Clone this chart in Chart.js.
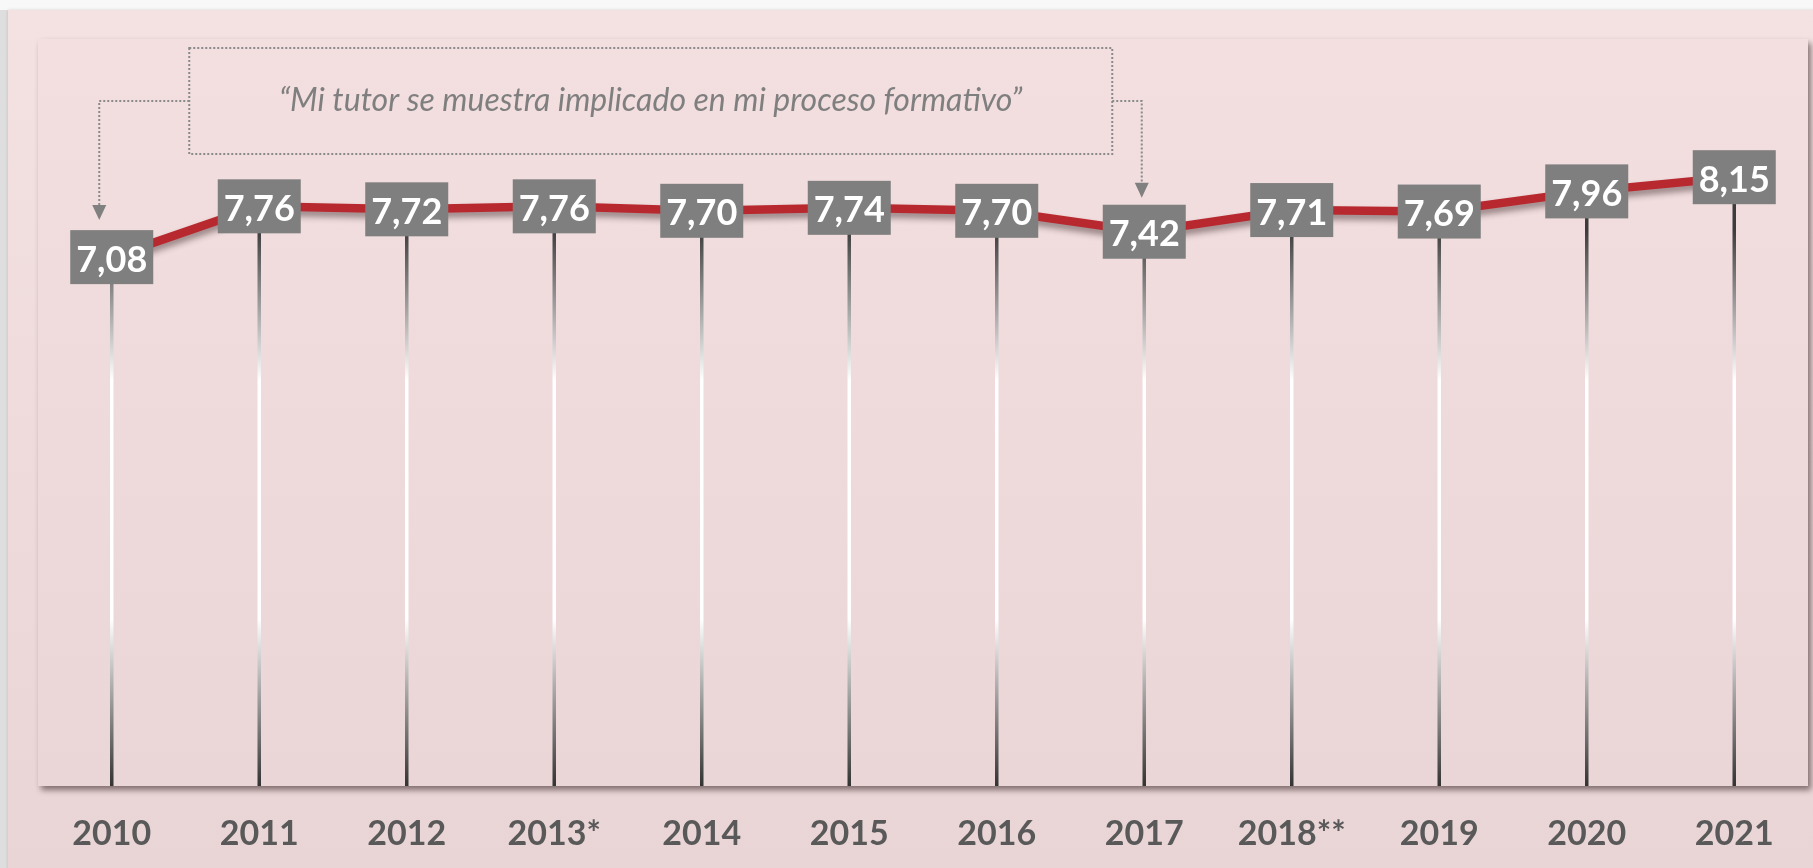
<!DOCTYPE html>
<html>
<head>
<meta charset="utf-8">
<script src="https://cdn.jsdelivr.net/npm/chart.js@4.4.1/dist/chart.umd.min.js"></script>
<style>
  html, body { margin: 0; padding: 0; background: #f6f6f6; }
  canvas { display: block; }
</style>
</head>
<body>
<canvas id="miGrafica" width="1813" height="868"></canvas>
<script>
// datos
const anios = ["2010", "2011", "2012", "2013*", "2014", "2015", "2016", "2017", "2018**", "2019", "2020", "2021"];
const valores = [7.08, 7.76, 7.72, 7.76, 7.70, 7.74, 7.70, 7.42, 7.71, 7.69, 7.96, 8.15];
const titulo = "\u201CMi tutor se muestra implicado en mi proceso formativo\u201D";

const rojo = "#b8292f";
const grisCaja = "#7f7f7f";

function formato(v) {
    return v.toFixed(2).replace(".", ",");
}

// fondo, panel y area interior
const fondoPlugin = {
    id: "fondo",
    beforeDraw(chart) {
        const ctx = chart.ctx;
        const a = chart.chartArea;
        ctx.save();
        ctx.fillStyle = "#f8f8f8";
        ctx.fillRect(0, 0, chart.width, chart.height);
        ctx.fillStyle = "#dedede";
        ctx.fillRect(0, 10, 8, chart.height);

        let g = ctx.createLinearGradient(0, 10, 0, chart.height);
        g.addColorStop(0, "#f4e1e2");
        g.addColorStop(1, "#ead5d6");
        ctx.fillStyle = g;
        ctx.shadowColor = "rgba(0,0,0,0.15)";
        ctx.shadowBlur = 3;
        ctx.fillRect(8, 10, chart.width, chart.height);

        ctx.shadowColor = "rgba(60,40,40,0.6)";
        ctx.shadowBlur = 6;
        ctx.shadowOffsetX = 3;
        ctx.shadowOffsetY = 4;
        g = ctx.createLinearGradient(0, a.top, 0, a.bottom);
        g.addColorStop(0, "#f3dfe0");
        g.addColorStop(1, "#ead6d7");
        ctx.fillStyle = g;
        ctx.fillRect(a.left, a.top, a.right - a.left, a.bottom - a.top);
        ctx.restore();
    },
    beforeDatasetsDraw(chart) {
        // lineas verticales
        const ctx = chart.ctx;
        const a = chart.chartArea;
        const meta = chart.getDatasetMeta(0);
        const g = ctx.createLinearGradient(0, 230, 0, a.bottom);
        g.addColorStop(0, "#3c3c3c");
        g.addColorStop(0.27, "#ffffff");
        g.addColorStop(0.70, "#ffffff");
        g.addColorStop(1, "#333333");
        ctx.save();
        ctx.strokeStyle = g;
        ctx.lineWidth = 3.5;
        meta.data.forEach(p => {
            ctx.beginPath();
            ctx.moveTo(p.x, p.y);
            ctx.lineTo(p.x, a.bottom);
            ctx.stroke();
        });
        ctx.restore();
    },
    beforeDatasetDraw(chart) {
        const ctx = chart.ctx;
        ctx.save();
        ctx.shadowColor = "rgba(40,20,20,0.45)";
        ctx.shadowBlur = 6;
        ctx.shadowOffsetY = 5;
    },
    afterDatasetDraw(chart) {
        chart.ctx.restore();
    },
    afterDatasetsDraw(chart) {
        const ctx = chart.ctx;
        const meta = chart.getDatasetMeta(0);
        const xs = chart.scales.x;

        // cajas con valores
        ctx.save();
        ctx.font = "bold 36px Lato";
        ctx.textAlign = "center";
        ctx.textBaseline = "middle";
        meta.data.forEach((p, i) => {
            ctx.fillStyle = grisCaja;
            ctx.fillRect(p.x - 41.5, p.y - 27, 83, 54);
            ctx.fillStyle = "#ffffff";
            ctx.fillText(formato(valores[i]), p.x, p.y + 3);
        });

        // recuadro punteado con el texto
        const x0 = xs.getPixelForValue(0) + 77.5;
        const x1 = xs.getPixelForValue(7) - 32;
        const y0 = 48, y1 = 154, ym = 101;
        ctx.strokeStyle = "#8a8a8a";
        ctx.lineWidth = 2;
        ctx.setLineDash([2, 2]);
        ctx.strokeRect(x0, y0, x1 - x0, y1 - y0);

        const p0 = meta.data[0], p7 = meta.data[7];
        const ax0 = p0.x - 12.5, ax7 = p7.x - 2.5;
        const tip0 = p0.y - 37, tip7 = p7.y - 34;
        ctx.beginPath();
        ctx.moveTo(x0, ym);
        ctx.lineTo(ax0, ym);
        ctx.lineTo(ax0, tip0 - 14);
        ctx.moveTo(x1, ym);
        ctx.lineTo(ax7, ym);
        ctx.lineTo(ax7, tip7 - 14);
        ctx.stroke();
        ctx.setLineDash([]);
        ctx.fillStyle = "#808080";
        [[ax0, tip0], [ax7, tip7]].forEach(([x, y]) => {
            ctx.beginPath();
            ctx.moveTo(x - 7, y - 15);
            ctx.lineTo(x + 7, y - 15);
            ctx.lineTo(x, y);
            ctx.closePath();
            ctx.fill();
        });

        ctx.fillStyle = "#7f7f7f";
        ctx.font = "italic 32px Lato";
        ctx.fillText(titulo, (x0 + x1) / 2, 101);
        ctx.restore();
    }
};

const ctx = document.getElementById("miGrafica").getContext("2d");
new Chart(ctx, {
    type: "line",
    data: {
        labels: anios,
        datasets: [{
            data: valores,
            borderColor: rojo,
            borderWidth: 8.5,
            pointRadius: 0,
            tension: 0,
            fill: false
        }]
    },
    options: {
        responsive: false,
        animation: false,
        devicePixelRatio: 1,
        layout: { padding: { left: 38, right: 5, top: 39, bottom: 0 } },
        plugins: {
            legend: { display: false },
            tooltip: { enabled: false }
        },
        scales: {
            x: {
                offset: true,
                grid: { display: false },
                border: { display: false },
                ticks: {
                    color: "#595959",
                    font: { family: "Lato", size: 34, weight: "bold" },
                    padding: 20
                },
                afterFit(scale) { scale.height = 82; }
            },
            y: {
                display: false,
                min: 0,
                max: 10
            }
        }
    },
    plugins: [fondoPlugin]
});
</script>
</body>
</html>
